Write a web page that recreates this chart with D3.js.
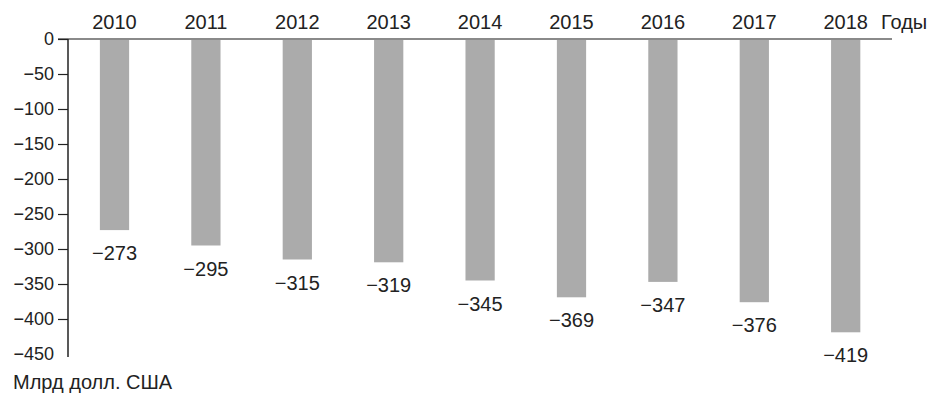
<!DOCTYPE html>
<html>
<head>
<meta charset="utf-8">
<script src="https://cdn.jsdelivr.net/npm/d3@7"></script>
<style>
  body { margin: 0; background: #fff; }
  text { font-family: "Liberation Sans", Arial, sans-serif; fill: #222; }
</style>
</head>
<body>
<svg id="chart" width="933" height="404"></svg>
<script>
var years = ["2010", "2011", "2012", "2013", "2014", "2015", "2016", "2017", "2018"];
var values = [-273, -295, -315, -319, -345, -369, -347, -376, -419];
var yTicks = [0, -50, -100, -150, -200, -250, -300, -350, -400, -450];

var svg = d3.select("#chart");
var fmt = function(v) { return v < 0 ? "\u2212" + Math.abs(v) : String(v); };

var x = d3.scaleBand()
  .domain(years)
  .range([68.8, 891.4])
  .paddingInner(0.68)
  .paddingOuter(0.34);

var y = d3.scaleLinear()
  .domain([0, -450])
  .range([39, 354]);

// bars
svg.selectAll(".bar")
  .data(values)
  .enter()
  .append("rect")
  .attr("class", "bar")
  .attr("x", function(d, i) { return x(years[i]); })
  .attr("y", y(0))
  .attr("width", x.bandwidth())
  .attr("height", function(d) { return y(d) - y(0); })
  .attr("fill", "#ababab");

// zero line
svg.append("line")
  .attr("x1", 58).attr("x2", 892)
  .attr("y1", y(0)).attr("y2", y(0))
  .attr("stroke", "#8a8a8a")
  .attr("stroke-width", 2);

// y axis
var yAxis = svg.append("g")
  .attr("transform", "translate(68,0)")
  .call(d3.axisLeft(y).tickValues(yTicks).tickSize(10).tickPadding(4).tickFormat(fmt));
yAxis.select(".domain").attr("stroke", "#222").attr("stroke-width", 1.5).attr("d", "M0," + y(0) + "V357");
yAxis.selectAll(".tick line").attr("stroke", "#222").attr("stroke-width", 1.2);
yAxis.selectAll(".tick").filter(function(d) { return d === -450; }).select("line").remove();
yAxis.selectAll(".tick text")
  .style("font-family", "'Liberation Sans', Arial, sans-serif")
  .style("font-size", "18px")
  .attr("fill", "#222");

// year labels
svg.selectAll(".year")
  .data(years)
  .enter()
  .append("text")
  .attr("class", "year")
  .attr("x", function(d) { return x(d) + x.bandwidth() / 2; })
  .attr("y", 29)
  .attr("text-anchor", "middle")
  .style("font-size", "20px")
  .text(function(d) { return d; });

svg.append("text")
  .attr("x", 881).attr("y", 29)
  .style("font-size", "20px")
  .text("Годы");

// value labels
svg.selectAll(".val")
  .data(values)
  .enter()
  .append("text")
  .attr("class", "val")
  .attr("x", function(d, i) { return x(years[i]) + x.bandwidth() / 2; })
  .attr("y", function(d) { return y(d) + 30; })
  .attr("text-anchor", "middle")
  .style("font-size", "20px")
  .text(fmt);

svg.append("text")
  .attr("x", 13).attr("y", 389)
  .style("font-size", "20px")
  .text("Млрд долл. США");
</script>
</body>
</html>
